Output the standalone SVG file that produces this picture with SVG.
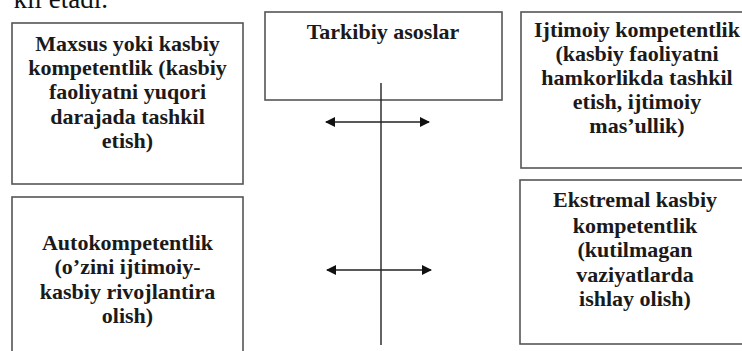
<svg xmlns="http://www.w3.org/2000/svg" width="742" height="351" viewBox="0 0 742 351">
<style>
.box{fill:#fff;stroke:#555;stroke-width:1.6}
.t{font-family:"Liberation Serif","Times New Roman",serif;font-weight:bold;font-size:22px;fill:#1a1a1a;text-anchor:middle}
.body{font-family:"Liberation Serif","Times New Roman",serif;font-size:27px;fill:#111}
.ln{stroke:#222;stroke-width:1.4;fill:none}
</style>
<defs>
<marker id="ah" viewBox="0 0 10 10" refX="9" refY="5" markerWidth="11" markerHeight="10" markerUnits="userSpaceOnUse" orient="auto-start-reverse">
<path d="M0,0 L10,5 L0,10 z" fill="#111"/>
</marker>
</defs>
<rect width="742" height="351" fill="#fff"/>
<text class="body" x="108" y="8" text-anchor="end">kil etadi.</text>
<g id="node-maxsus">
<rect class="box" x="12" y="23" width="231" height="161"/>
<text class="t" x="127.5" y="51">Maxsus yoki kasbiy</text>
<text class="t" x="127.5" y="75">kompetentlik (kasbiy</text>
<text class="t" x="127.5" y="99">faoliyatni yuqori</text>
<text class="t" x="127.5" y="124">darajada tashkil</text>
<text class="t" x="127.5" y="148">etish)</text>
</g>
<g id="node-auto">
<rect class="box" x="12" y="197" width="231" height="170"/>
<text class="t" x="127.5" y="250">Autokompetentlik</text>
<text class="t" x="127.5" y="274">(o’zini ijtimoiy-</text>
<text class="t" x="127.5" y="299">kasbiy rivojlantira</text>
<text class="t" x="127.5" y="323">olish)</text>
</g>
<g id="node-tarkibiy">
<rect class="box" x="265" y="12" width="237" height="88"/>
<text class="t" x="383" y="39">Tarkibiy asoslar</text>
</g>
<g id="node-ijtimoiy">
<rect class="box" x="521" y="12" width="240" height="156"/>
<text class="t" x="637" y="37">Ijtimoiy kompetentlik</text>
<text class="t" x="637" y="61">(kasbiy faoliyatni</text>
<text class="t" x="637" y="85">hamkorlikda tashkil</text>
<text class="t" x="637" y="109">etish, ijtimoiy</text>
<text class="t" x="637" y="133">mas’ullik)</text>
</g>
<g id="node-ekstremal">
<rect class="box" x="520" y="180" width="240" height="164"/>
<text class="t" x="635" y="207">Ekstremal kasbiy</text>
<text class="t" x="635" y="233">kompetentlik</text>
<text class="t" x="635" y="257">(kutilmagan</text>
<text class="t" x="635" y="282">vaziyatlarda</text>
<text class="t" x="635" y="306">ishlay olish)</text>
</g>
<g id="connectors">
<line class="ln" x1="381" y1="83" x2="381" y2="345"/>
<line class="ln" x1="326" y1="122" x2="429" y2="122" marker-start="url(#ah)" marker-end="url(#ah)"/>
<line class="ln" x1="327" y1="270" x2="431" y2="270" marker-start="url(#ah)" marker-end="url(#ah)"/>
</g>
</svg>
